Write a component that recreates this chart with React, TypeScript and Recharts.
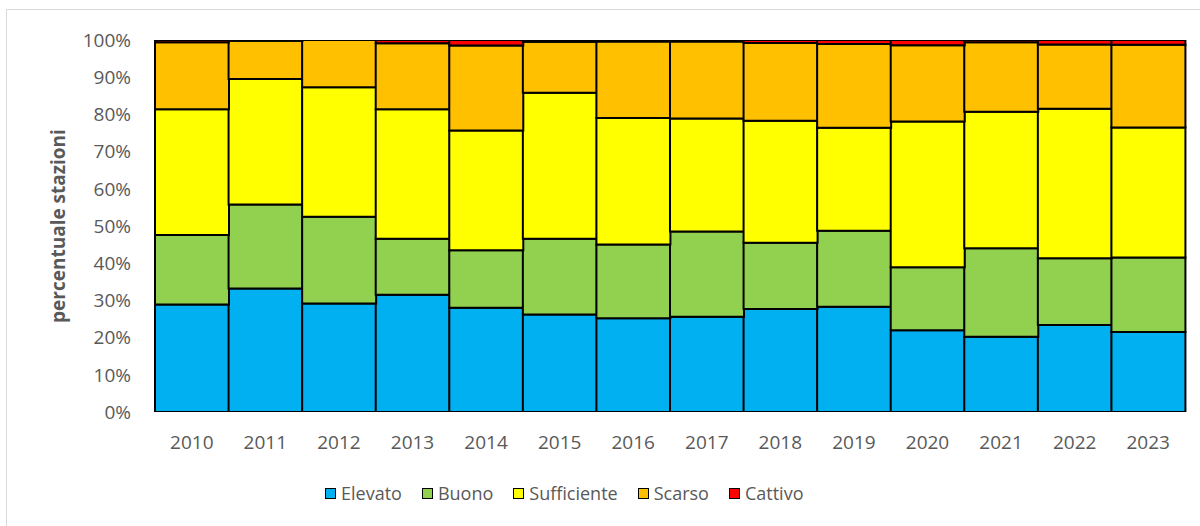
import React from "react";
import { BarChart, Bar, XAxis, YAxis } from "recharts";

const years = ["2010","2011","2012","2013","2014","2015","2016","2017","2018","2019","2020","2021","2022","2023"];
const elevato = [28.9, 33.2, 29.2, 31.5, 28.0, 26.2, 25.2, 25.6, 27.7, 28.3, 22.0, 20.2, 23.4, 21.5];
const buono = [18.7, 22.6, 23.3, 15.1, 15.5, 20.4, 19.8, 22.9, 17.8, 20.4, 16.9, 23.8, 17.9, 20.0];
const sufficiente = [33.8, 33.7, 34.8, 34.8, 32.2, 39.2, 34.0, 30.4, 32.8, 27.7, 39.2, 36.7, 40.2, 35.0];
const scarso = [18.0, 10.3, 12.7, 17.7, 22.8, 13.7, 20.6, 20.7, 20.9, 22.5, 20.5, 18.7, 17.3, 22.2];
const cattivo = [0.6, 0.2, 0.0, 0.9, 1.5, 0.5, 0.4, 0.4, 0.8, 1.1, 1.4, 0.6, 1.2, 1.3];
const yTicks = [0, 10, 20, 30, 40, 50, 60, 70, 80, 90, 100];

const series = [
  { key: "Elevato", values: elevato, color: "#00B0F0" },
  { key: "Buono", values: buono, color: "#92D050" },
  { key: "Sufficiente", values: sufficiente, color: "#FFFF00" },
  { key: "Scarso", values: scarso, color: "#FFC000" },
  { key: "Cattivo", values: cattivo, color: "#FF0000" },
];

const data = years.map((y, i) => {
  const row: Record<string, number | string> = { year: y };
  series.forEach((s) => (row[s.key] = s.values[i]));
  return row;
});

const FONT = "'Open Sans', sans-serif";
const TXT = "#595959";

export default function App() {
  return (
    <div style={{ position: "absolute", left: 0, top: 0, width: 1200, height: 526, overflow: "hidden", background: "#fff", fontFamily: FONT }}>
      <div style={{ position: "absolute", left: 6, top: 9, width: 1210, height: 540, border: "1px solid #d9d9d9", boxSizing: "border-box" }} />
      <div style={{ position: "absolute", left: 0, top: 0 }}>
        <BarChart
          width={1200}
          height={526}
          data={data}
          margin={{ top: 40, right: 15, left: 0, bottom: 74 }}
          barCategoryGap={0}
          barGap={0}
        >
          <XAxis
            dataKey="year"
            height={40}
            tickLine={false}
            axisLine={false}
            tickMargin={18}
            tick={{ fill: TXT, fontSize: 19, fontFamily: FONT }}
            interval={0}
          />
          <YAxis
            width={155}
            domain={[0, 100]}
            ticks={yTicks}
            allowDataOverflow
            tickFormatter={(v: number) => `${v}%`}
            tickLine={false}
            axisLine={false}
            tickMargin={18}
            tick={{ fill: TXT, fontSize: 19, fontFamily: FONT }}
            label={{
              value: "percentuale stazioni",
              angle: -90,
              position: "insideLeft",
              offset: 58,
              style: { fill: TXT, fontSize: 19, fontWeight: 700, fontFamily: FONT, textAnchor: "middle" },
            }}
          />
          {series.map((s) => (
            <Bar
              key={s.key}
              dataKey={s.key}
              stackId="a"
              fill={s.color}
              stroke="#000"
              strokeWidth={2}
              isAnimationActive={false}
            />
          ))}
        </BarChart>
      </div>
      <div style={{ position: "absolute", left: 325, top: 481, display: "flex", alignItems: "center", color: TXT, fontSize: 18, fontFamily: FONT, whiteSpace: "nowrap" }}>
        {series.map((s, i) => (
          <div key={s.key} style={{ display: "flex", alignItems: "center", marginRight: i < series.length - 1 ? 20 : 0 }}>
            <span style={{ display: "inline-block", width: 9, height: 9, background: s.color, border: "1.5px solid #000", marginRight: 5 }} />
            <span>{s.key}</span>
          </div>
        ))}
      </div>
    </div>
  );
}
